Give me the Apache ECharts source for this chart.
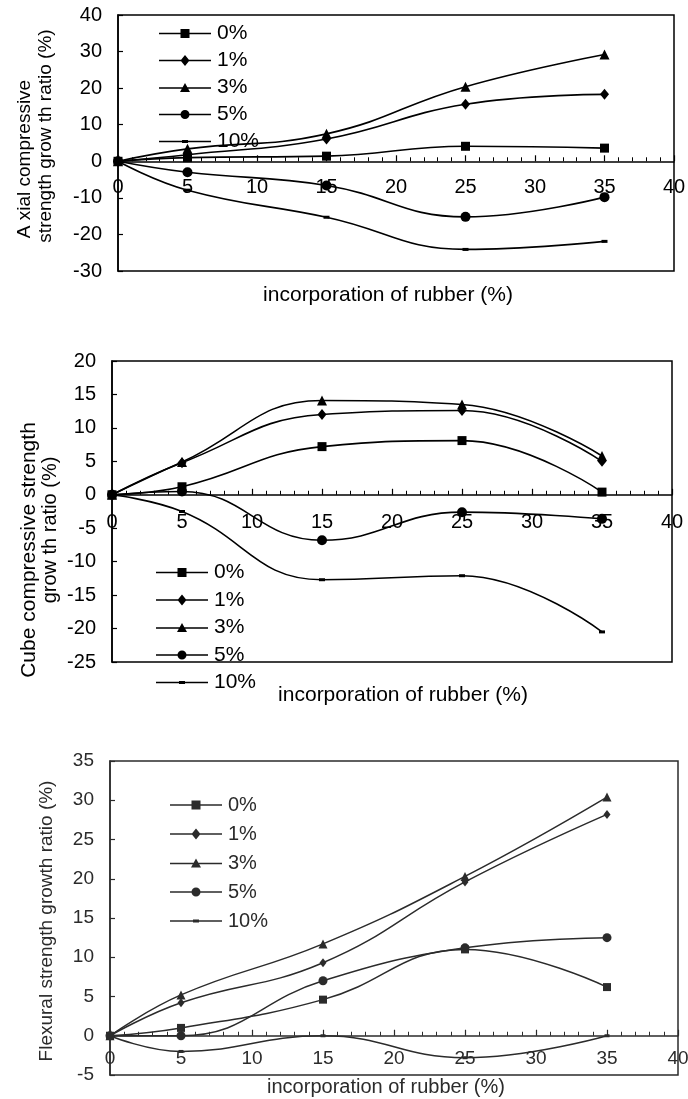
<!DOCTYPE html>
<html><head><meta charset="utf-8">
<script src="https://cdn.jsdelivr.net/npm/echarts@6/dist/echarts.min.js"></script>
<style>html,body{margin:0;padding:0;background:#fff}#c{width:688px;height:1099px}</style>
</head><body><div id="c"></div>
<script>
// ---- data ----
const rubber = [0, 5, 15, 25, 35];
const seriesNames = ['0%', '1%', '3%', '5%', '10%'];
const xTicks = [0, 5, 10, 15, 20, 25, 30, 35, 40];

const axialTicks = [-30, -20, -10, 0, 10, 20, 30, 40];
const axial0 = [0, 1.0, 1.4, 4.1, 3.6];
const axial1 = [0, 1.8, 6.1, 15.6, 18.3];
const axial3 = [0, 3.4, 7.5, 20.4, 29.2];
const axial5 = [0, -3.0, -6.6, -15.2, -9.8];
const axial10 = [0, -7.9, -15.3, -24.1, -21.9];

const cubeTicks = [-25, -20, -15, -10, -5, 0, 5, 10, 15, 20];
const cube0 = [0, 1.2, 7.2, 8.1, 0.4];
const cube1 = [0, 4.8, 12.0, 12.6, 5.0];
const cube3 = [0, 4.9, 14.1, 13.5, 5.8];
const cube5 = [0, 0.5, -6.8, -2.6, -3.6];
const cube10 = [0, -2.5, -12.7, -12.1, -20.5];

const flexTicks = [-5, 0, 5, 10, 15, 20, 25, 30, 35];
const flex0 = [0, 1.0, 4.6, 11.0, 6.2];
const flex1 = [0, 4.2, 9.3, 19.6, 28.2];
const flex3 = [0, 5.2, 11.7, 20.3, 30.4];
const flex5 = [0, 0.0, 7.0, 11.2, 12.5];
const flex10 = [0, -2.0, 0.0, -2.8, 0.0];

const xTitle = 'incorporation of rubber (%)';
const axialTitle = ['A xial compressive', 'strength grow th ratio (%)'];
const cubeTitle = ['Cube compressive strength', 'grow th ratio (%)'];
const flexTitle = 'Flexural strength growth ratio (%)';

// ---- styles ----
const FONT = '"Liberation Sans", Arial, sans-serif';
const panels = [
  {sets: [axial0, axial1, axial3, axial5, axial10], ticks: axialTicks,
   grid: {left: 118, top: 15, width: 556, height: 256}, color: '#000',
   labelSize: 20, xMargin: 16, legend: {left: 159, top: 23, gap: 6}, legendSize: 21,
   mk: [[9, 9], [9, 11], [10, 10], [10, 10], [6, 3]], lw: 1.6},
  {sets: [cube0, cube1, cube3, cube5, cube10], ticks: cubeTicks,
   grid: {left: 112, top: 361, width: 560, height: 301}, color: '#000',
   labelSize: 20, xMargin: 18, legend: {left: 156, top: 562, gap: 6.5}, legendSize: 21,
   mk: [[9, 9], [9, 11], [10, 10], [10, 10], [6, 3]], lw: 1.6},
  {sets: [flex0, flex1, flex3, flex5, flex10], ticks: flexTicks,
   grid: {left: 110, top: 761, width: 568, height: 314}, color: '#2b2b2b',
   labelSize: 19, xMargin: 14, legend: {left: 170, top: 795, gap: 9}, legendSize: 20,
   mk: [[8, 8], [7, 9], [9, 9], [9, 9], [5, 3]], lw: 1.5}
];
const symbols = ['rect', 'diamond', 'triangle', 'circle', 'rect'];
const LINE = 'M0 -0.75H52V0.75H0Z ';
const iconMarks = [
  'M21.5 -4.5H30.5V4.5H21.5Z',
  'M26 -5.5L30.5 0L26 5.5L21.5 0Z',
  'M26 -5L31 4L21 4Z',
  'M21.5 0A4.5 4.5 0 1 1 30.5 0A4.5 4.5 0 1 1 21.5 0Z',
  'M23 -1.5H29V1.5H23Z'
];

const grids = [], xAxes = [], yAxes = [], series = [], legends = [];
panels.forEach((p, gi) => {
  grids.push(Object.assign({show: true, borderColor: p.color, borderWidth: 1.5, outerBoundsMode: 'none', containLabel: false}, p.grid));
  const yMin = p.ticks[0], yMax = p.ticks[p.ticks.length - 1];
  // move the x axis (line, ticks, labels) up to the value 0 of the y axis
  const zeroOffset = -p.grid.height * (0 - yMin) / (yMax - yMin);
  xAxes.push({
    gridIndex: gi, type: 'value', min: xTicks[0], max: xTicks[xTicks.length - 1], interval: xTicks[1] - xTicks[0],
    position: 'bottom', offset: zeroOffset,
    axisLine: {show: true, onZero: false, lineStyle: {color: p.color, width: 1.5}},
    axisTick: {show: true, inside: true, length: 6, lineStyle: {color: p.color, width: 1.2}},
    minorTick: {show: true, splitNumber: 5, length: 4, lineStyle: {color: p.color, width: 1}},
    axisLabel: {margin: p.xMargin, fontSize: p.labelSize, fontFamily: FONT, color: p.color, showMinLabel: true, showMaxLabel: true, hideOverlap: false},
    splitLine: {show: false}
  });
  yAxes.push({
    gridIndex: gi, type: 'value', min: yMin, max: yMax, interval: p.ticks[1] - p.ticks[0],
    axisLine: {show: true, onZero: false, lineStyle: {color: p.color, width: 1.5}},
    axisTick: {show: true, inside: true, length: 5, lineStyle: {color: p.color, width: 1.2}},
    axisLabel: {margin: 16, fontSize: p.labelSize, fontFamily: FONT, color: p.color, showMinLabel: true, showMaxLabel: true},
    splitLine: {show: false}
  });
  p.sets.forEach((vals, si) => {
    series.push({
      type: 'line', name: seriesNames[si], xAxisIndex: gi, yAxisIndex: gi,
      data: rubber.map((x, i) => [x, vals[i]]),
      smooth: 0.45, symbol: symbols[si], symbolSize: p.mk[si], showSymbol: true,
      lineStyle: {color: p.color, width: p.lw}, itemStyle: {color: p.color, borderWidth: 0},
      emphasis: {disabled: true}, animation: false
    });
  });
  legends.push({
    orient: 'vertical', left: p.legend.left, top: p.legend.top, padding: 0,
    itemGap: p.legend.gap, itemWidth: 52, itemHeight: 14, selectedMode: false,
    textStyle: {fontSize: p.legendSize, fontFamily: FONT, color: p.color, lineHeight: 20, padding: [0, 0, 0, 1]},
    itemStyle: {borderWidth: 0},
    data: seriesNames.map((n, si) => ({name: n, icon: 'path://' + LINE + iconMarks[si], itemStyle: {color: p.color, borderWidth: 0}}))
  });
});

function vtext(text, x, y, size, color) {
  return {type: 'text', x: x, y: y, rotation: Math.PI / 2, silent: true,
    style: {text: text, fill: color, font: size + 'px ' + FONT, align: 'center', verticalAlign: 'middle'}};
}
function htext(text, x, y, size, color) {
  return {type: 'text', x: x, y: y, silent: true,
    style: {text: text, fill: color, font: size + 'px ' + FONT, align: 'center', verticalAlign: 'middle'}};
}
const graphics = [
  vtext(axialTitle[0], 25, 159, 19, '#000'),
  vtext(axialTitle[1], 46, 136, 19, '#000'),
  htext(xTitle, 388, 295, 21, '#000'),
  vtext(cubeTitle[0], 29, 550, 21, '#000'),
  vtext(cubeTitle[1], 50, 530, 20, '#000'),
  htext(xTitle, 403, 695, 21, '#000'),
  vtext(flexTitle, 47, 921, 19, '#2b2b2b'),
  htext(xTitle, 386, 1087, 20, '#2b2b2b')
];

const chart = echarts.init(document.getElementById('c'), null, {renderer: 'canvas'});
chart.setOption({
  animation: false,
  backgroundColor: '#fff',
  grid: grids, xAxis: xAxes, yAxis: yAxes, legend: legends, series: series,
  graphic: graphics
});
</script></body></html>
